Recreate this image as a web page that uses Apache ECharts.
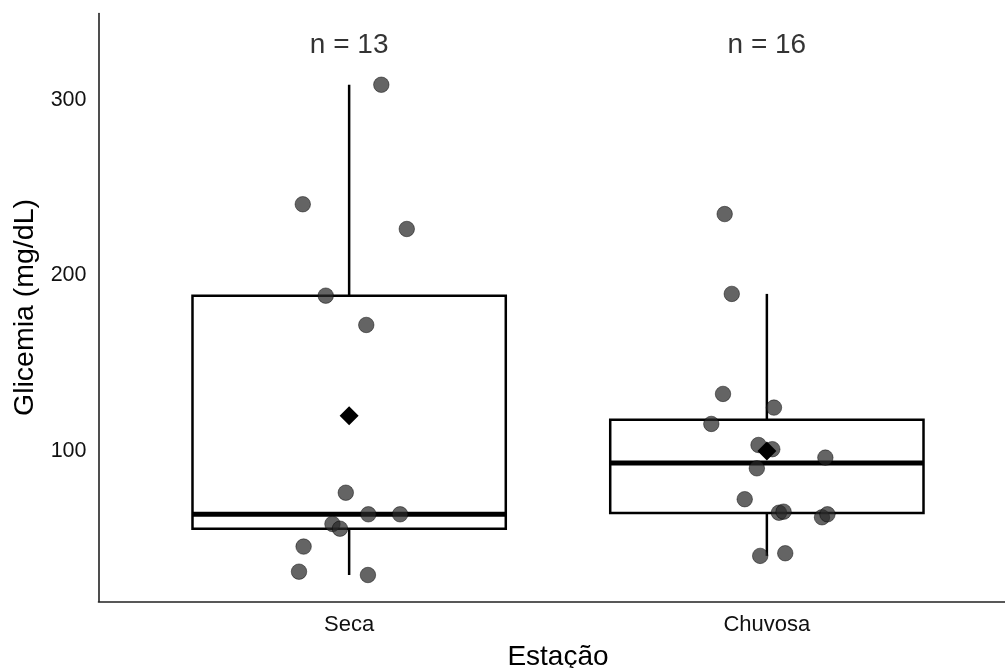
<!DOCTYPE html>
<html>
<head>
<meta charset="utf-8">
<script src="https://cdn.jsdelivr.net/npm/echarts@6/dist/echarts.min.js"></script>
<style>
  html, body { margin: 0; padding: 0; background: #fff; }
  #chart { width: 1005px; height: 668px; }
</style>
</head>
<body>
<div id="chart"></div>
<script>
// Glicemia por estação: boxplot + pontos individuais + média
const categories = ['Seca', 'Chuvosa'];

// Valores individuais (mg/dL)
const secaValues = [308.7, 240.6, 226.5, 188.5, 171.8, 76.2, 63.9, 63.9, 58.4, 55.7, 45.5, 31.2, 29.3];
const chuvosaValues = [235.0, 189.5, 132.5, 124.7, 115.4, 103.4, 101.0, 96.2, 90.1, 72.5, 64.8, 65.4, 62.2, 63.9, 40.2, 41.7];

// Deslocamento horizontal (jitter) de cada ponto, em unidades de categoria
const secaJitter = [0.077, -0.111, 0.138, -0.056, 0.041, -0.008, 0.046, 0.122, -0.040, -0.022, -0.109, -0.120, 0.045];
const chuvosaJitter = [-0.101, -0.084, -0.105, 0.017, -0.133, -0.020, 0.013, 0.140, -0.024, -0.053, 0.029, 0.040, 0.132, 0.145, -0.016, 0.044];

const yTicks = [100, 200, 300];

const groups = [secaValues, chuvosaValues];
const jitters = [secaJitter, chuvosaJitter];

function quantile(sorted, p) {
  const h = (sorted.length - 1) * p;
  const lo = Math.floor(h);
  const hi = Math.min(lo + 1, sorted.length - 1);
  return sorted[lo] + (h - lo) * (sorted[hi] - sorted[lo]);
}

function boxStats(values) {
  const s = values.slice().sort((a, b) => a - b);
  const q1 = quantile(s, 0.25), med = quantile(s, 0.5), q3 = quantile(s, 0.75);
  const iqr = q3 - q1;
  const lowFence = q1 - 1.5 * iqr, highFence = q3 + 1.5 * iqr;
  const low = s.filter(v => v >= lowFence)[0];
  const inside = s.filter(v => v <= highFence);
  const high = inside[inside.length - 1];
  return [low, q1, med, q3, high];
}

const boxData = groups.map((vals, i) => [i + 1].concat(boxStats(vals)));
const meanData = groups.map((vals, i) => [i + 1, vals.reduce((a, b) => a + b, 0) / vals.length]);
const pointData = [];
groups.forEach((vals, i) => vals.forEach((v, j) => pointData.push([i + 1 + jitters[i][j], v])));
const nLabelData = groups.map((vals, i) => ({ value: [i + 1, 331.3], n: vals.length }));

const FONT = 'Liberation Sans, Arial, sans-serif';
const chart = echarts.init(document.getElementById('chart'), null, { renderer: 'canvas' });

chart.setOption({
  animation: false,
  backgroundColor: '#ffffff',
  grid: { left: 98.5, top: 13.5, width: 919, height: 588, containLabel: false, outerBoundsMode: 'none' },
  xAxis: {
    type: 'value',
    min: 0.4,
    max: 2.6,
    name: 'Estação',
    nameLocation: 'middle',
    nameGap: 42,
    nameTextStyle: { fontFamily: FONT, fontSize: 28, color: '#000' },
    axisLine: { show: true, onZero: false, lineStyle: { color: '#222', width: 1.6 } },
    axisTick: { show: false },
    splitLine: { show: false },
    axisLabel: {
      customValues: [1, 2],
      formatter: v => categories[Math.round(v) - 1] || '',
      fontFamily: FONT, fontSize: 22, color: '#111', margin: 12
    }
  },
  yAxis: {
    type: 'value',
    min: 14.2,
    max: 349.3,
    name: 'Glicemia (mg/dL)',
    nameLocation: 'middle',
    nameGap: 49,
    nameRotate: 90,
    nameTextStyle: { fontFamily: FONT, fontSize: 28.5, color: '#000' },
    axisLine: { show: true, onZero: false, lineStyle: { color: '#222', width: 1.6 } },
    axisTick: { show: false },
    splitLine: { show: false },
    axisLabel: {
      customValues: yTicks,
      fontFamily: FONT, fontSize: 21.5, color: '#111', margin: 12,
      padding: [4, 0, 0, 0]
    }
  },
  series: [
    {
      type: 'custom',
      name: 'box',
      data: boxData,
      encode: { x: 0, y: [1, 2, 3, 4, 5] },
      z: 2,
      renderItem: function (params, api) {
        const x = api.value(0);
        const low = api.coord([x, api.value(1)]);
        const q1 = api.coord([x, api.value(2)]);
        const med = api.coord([x, api.value(3)]);
        const q3 = api.coord([x, api.value(4)]);
        const high = api.coord([x, api.value(5)]);
        const half = api.size([0.75, 0])[0] / 2;
        const cx = low[0];
        return {
          type: 'group',
          children: [
            { type: 'line', shape: { x1: cx, y1: q3[1], x2: cx, y2: high[1] }, style: { stroke: '#000', lineWidth: 2.5 } },
            { type: 'line', shape: { x1: cx, y1: q1[1], x2: cx, y2: low[1] }, style: { stroke: '#000', lineWidth: 2.5 } },
            { type: 'rect', shape: { x: cx - half, y: q3[1], width: half * 2, height: q1[1] - q3[1] }, style: { fill: '#fff', stroke: '#000', lineWidth: 2.5 } },
            { type: 'line', shape: { x1: cx - half, y1: med[1], x2: cx + half, y2: med[1] }, style: { stroke: '#000', lineWidth: 5 } }
          ]
        };
      }
    },
    {
      type: 'scatter',
      name: 'pontos',
      data: pointData,
      symbol: 'circle',
      symbolSize: 15.5,
      z: 3,
      itemStyle: { color: 'rgba(40,40,40,0.72)', borderColor: 'rgba(0,0,0,0.45)', borderWidth: 1, opacity: 1 }
    },
    {
      type: 'scatter',
      name: 'média',
      data: meanData,
      symbol: 'diamond',
      symbolSize: [19, 19],
      z: 4,
      itemStyle: { color: '#000', opacity: 1 }
    },
    {
      type: 'scatter',
      name: 'n',
      data: nLabelData,
      symbolSize: 0,
      z: 5,
      label: {
        show: true,
        position: 'inside',
        formatter: p => 'n = ' + p.data.n,
        fontFamily: FONT, fontSize: 28, color: '#000'
      }
    }
  ]
});
</script>
</body>
</html>
